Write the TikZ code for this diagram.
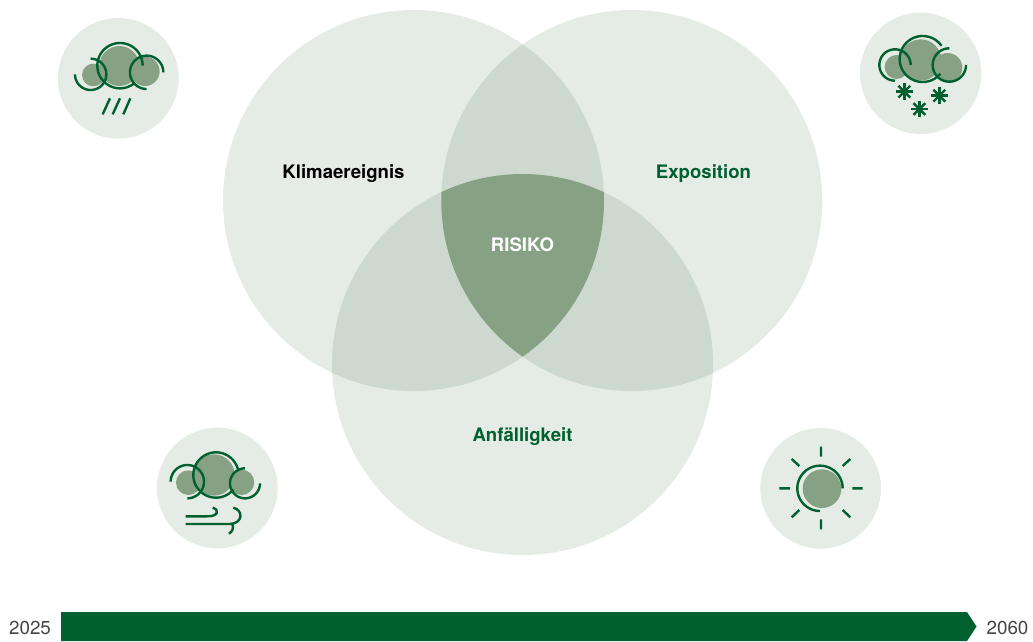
\documentclass[tikz,border=0pt]{standalone}
\usepackage{fontspec}
\setmainfont{TeX Gyre Heros}
\definecolor{pale}{HTML}{E5ECE6}
\definecolor{mid}{HTML}{CDD8CE}
\definecolor{blob}{HTML}{86A183}
\definecolor{deep}{HTML}{00602F}
\definecolor{yeartext}{HTML}{444444}
\tikzset{
  iconbg/.style={fill=pale},
  iconblob/.style={fill=blob},
  iconline/.style={draw=deep,line width=2.4pt,line cap=butt},
  lab/.style={font=\bfseries\fontsize{18.6}{20}\selectfont,anchor=center},
  yearlab/.style={font=\fontsize{18.8}{20}\selectfont,text=yeartext,anchor=center},
  zoomA/.style={shift={(#1)},x=0.3333pt,y=-0.3333pt}
}
\newcommand{\iarc}[5]{\draw[iconline] plot[domain=#4:#5,samples=70,smooth,variable=\t] ({#1+#3*cos(\t)},{#2+#3*sin(\t)});}
\begin{document}
\begin{tikzpicture}[x=1pt,y=-1pt]
\useasboundingbox (0,0) rectangle (1033,641);
\def\cA{(413.5,200.5) circle (190.5)}
\def\cB{(631.75,200.5) circle (190.5)}
\def\cC{(522.5,364.5) circle (190.5)}
\fill[pale] \cA; \fill[pale] \cB; \fill[pale] \cC;
\begin{scope}\clip \cA; \fill[mid] \cB; \fill[mid] \cC;\end{scope}
\begin{scope}\clip \cB; \fill[mid] \cC;\end{scope}
\begin{scope}\clip \cA; \clip \cB; \fill[blob] \cC;\end{scope}
\node[lab,text=black] (klima) at (343.5,174) {Klimaereignis};
\node[lab,text=deep] (expo) at (703.5,174) {Exposition};
\node[lab,text=deep] (anf) at (522.5,437) {Anfälligkeit};
\node[lab,text=white] (risiko) at (522.5,245) {RISIKO};
% rain
\begin{scope}[zoomA={50,10}]
\fill[iconbg] (205,205) circle (181);
\fill[iconblob] (208,168) circle (60) (130,195) circle (34) (285,184) circle (44);
\iarc{210}{167}{68}{50}{360}
\iarc{122}{193}{47}{180}{-90}
\iarc{290}{187}{50}{0}{-270}
\draw[iconline] (180,265)--(158,313) (210,265)--(188,313) (241,265)--(220,313);
\end{scope}
% snow
\begin{scope}[zoomA={850,5}]
\fill[iconbg] (212,205) circle (182);
\fill[iconblob] (212,165) circle (62) (140,186) circle (36) (293,188) circle (44);
\iarc{218}{162}{69}{40}{325}
\iarc{135}{180}{47}{0}{-270}
\iarc{298}{180}{50}{0}{270}
\foreach \px/\py in {163/260,268/272,208/312}{
  \foreach \a in {0,45,90,135}{
    \draw[iconline] (\px,\py) ++(\a:25) -- ++(\a+180:50);
  }
}
\end{scope}
% wind
\begin{scope}[zoomA={150,420}]
\fill[iconbg] (202,204) circle (181);
\fill[iconblob] (192,165) circle (62) (115,188) circle (37) (275,187) circle (38);
\iarc{198}{165}{68}{40}{350}
\iarc{112}{185}{50}{180}{450}
\iarc{285}{190}{45}{0}{270}
\draw[iconline] (107,289) -- (170,289) .. controls (205,290) and (210,270) .. (188,263);
\draw[iconline] (107,312) -- (240,312) .. controls (280,310) and (280,270) .. (250,263);
\draw[iconline] (247,312) .. controls (252,325) and (247,335) .. (237,341);
\end{scope}
% sun
\begin{scope}[zoomA={750,420}]
\fill[iconbg] (212,205) circle (181);
\fill[iconblob] (216,206) circle (58);
\iarc{210}{205}{68}{0}{-270}
\draw[iconline] (213,80)--(213,110) (213,298)--(213,328) (88,205)--(120,205) (307,205)--(338,205)
  (125,117)--(148,138) (301,117)--(278,138) (125,292)--(148,270) (301,292)--(278,270);
\end{scope}
\fill[deep] (61,612) -- (967,612) -- (976.5,626.5) -- (967,641) -- (61,641) -- cycle;
\node[yearlab] (ya) at (30,628) {2025};
\node[yearlab] (yb) at (1007.5,628) {2060};
\end{tikzpicture}
\end{document}
